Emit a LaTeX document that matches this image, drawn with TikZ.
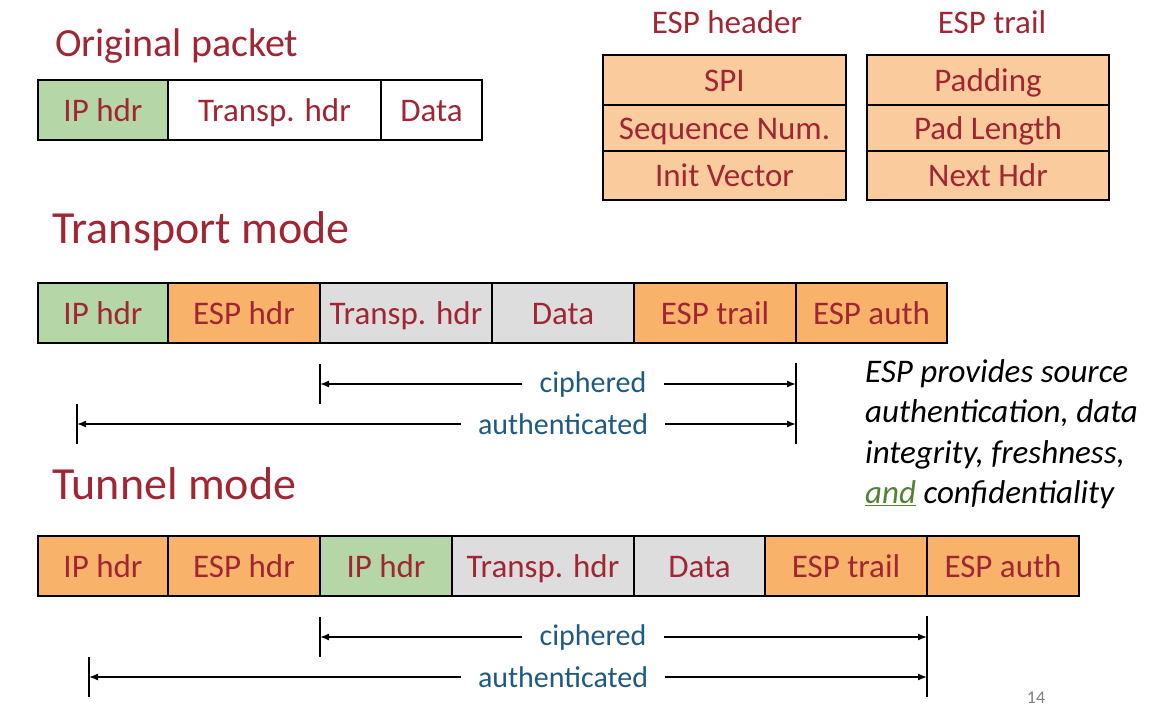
\documentclass[tikz,border=0pt]{standalone}
\usepackage{fontspec}
\setmainfont{Carlito}
\usepackage{tikz}
\usetikzlibrary{positioning,arrows.meta}
\definecolor{hdrred}{RGB}{160,38,52}
\definecolor{lblblue}{RGB}{31,90,130}
\definecolor{ipgreen}{RGB}{181,215,168}
\definecolor{esporange}{RGB}{248,178,106}
\definecolor{esplight}{RGB}{250,203,156}
\definecolor{bodygray}{RGB}{221,221,221}
\definecolor{andgreen}{RGB}{84,130,53}

\begin{document}
\begin{tikzpicture}[x=1pt, y=-1pt,
  fld/.style={draw=black, line width=1.3pt, minimum height=60pt, inner sep=0pt, outer sep=0pt,
    text=hdrred, text height=26pt, text depth=4pt, font=\fontsize{33}{40}\selectfont},
  row/.style={fld, minimum height=#1},
  title/.style={text=hdrred, inner sep=0pt, anchor=west, font=\fontsize{46}{50}\selectfont},
  lbl/.style={text=lblblue, inner ysep=0pt, inner xsep=17pt, font=\fontsize{30}{34}\selectfont},
  arr/.style={line width=1.4pt, -{Latex[length=9pt,width=7pt]}},
  tick/.style={line width=1.4pt}]

\useasboundingbox (0,0) rectangle (1167,720);

% Original packet
\path (55,46) node[title, font=\fontsize{40}{44}\selectfont] (otitle) {Original packet};
\path (38,110) node[fld, fill=ipgreen, minimum width=130pt, anchor=west] (oip) {IP hdr};
\node[fld, fill=white, minimum width=213pt, right=0pt of oip] (otr) {Transp. hdr};
\node[fld, fill=white, minimum width=101pt, right=0pt of otr] (odata) {Data};

% ESP header and trail fields
\path (727,22) node[text=hdrred, font=\fontsize{33}{36}\selectfont] (hdrtitle) {ESP header};
\path (603,55) node[row=50pt, fill=esplight, minimum width=243pt, anchor=north west] (spi) {SPI};
\node[row=46pt, fill=esplight, minimum width=243pt, below=0pt of spi] (seq) {Sequence Num.};
\node[row=49pt, fill=esplight, minimum width=243pt, below=0pt of seq] (iv) {Init Vector};

\path (992,22) node[text=hdrred, font=\fontsize{33}{36}\selectfont] (trltitle) {ESP trail};
\path (867,55) node[row=50pt, fill=esplight, minimum width=242pt, anchor=north west] (pad) {Padding};
\node[row=46pt, fill=esplight, minimum width=242pt, below=0pt of pad] (padlen) {Pad Length};
\node[row=49pt, fill=esplight, minimum width=242pt, below=0pt of padlen] (nxt) {Next Hdr};

% Transport mode
\path (52,231) node[title] (ttitle) {Transport mode};
\path (38,313) node[fld, fill=ipgreen, minimum width=130pt, anchor=west] (tip) {IP hdr};
\node[fld, fill=esporange, minimum width=152pt, right=0pt of tip] (tesp) {ESP hdr};
\node[fld, fill=bodygray, minimum width=172pt, right=0pt of tesp] (ttr) {Transp. hdr};
\node[fld, fill=bodygray, minimum width=142pt, right=0pt of ttr] (tdata) {Data};
\node[fld, fill=esporange, minimum width=162pt, right=0pt of tdata] (ttrl) {ESP trail};
\node[fld, fill=esporange, minimum width=151pt, right=0pt of ttrl] (tauth) {ESP auth};

\coordinate (tcl) at (320,384);
\coordinate (tcr) at (796,384);
\coordinate (tal) at (77,424);
\coordinate (tar) at (796,424);
\node[lbl] (tciph) at (593,384) {ciphered};
\node[lbl] (tauthd) at (563,424) {authenticated};
\draw[tick] ([yshift=20pt]tcl) -- ([yshift=-20pt]tcl);
\draw[tick] ([yshift=20pt]tal) -- ([yshift=-20pt]tal);
\draw[tick] ([yshift=21pt]tcr) -- ([yshift=-20pt]tar);
\draw[arr] (tciph.west) -- (tcl);
\draw[arr] (tciph.east) -- (tcr);
\draw[arr] (tauthd.west) -- (tal);
\draw[arr] (tauthd.east) -- (tar);

% Note on ESP
\path (865,359) node[anchor=north west, inner sep=0pt, align=left,
  font=\fontsize{33}{40.5}\selectfont\itshape] (note)
  {ESP provides source\\authentication, data\\integrity, freshness,\\{\color{andgreen}\underline{and}} confidentiality};

% Tunnel mode
\path (52,484) node[title] (ntitle) {Tunnel mode};
\path (38,566) node[fld, fill=esporange, minimum width=130pt, anchor=west] (nip) {IP hdr};
\node[fld, fill=esporange, minimum width=152pt, right=0pt of nip] (nesp) {ESP hdr};
\node[fld, fill=ipgreen, minimum width=132pt, right=0pt of nesp] (nin) {IP hdr};
\node[fld, fill=bodygray, minimum width=182pt, right=0pt of nin] (ntr) {Transp. hdr};
\node[fld, fill=bodygray, minimum width=131pt, right=0pt of ntr] (ndata) {Data};
\node[fld, fill=esporange, minimum width=162pt, right=0pt of ndata] (ntrl) {ESP trail};
\node[fld, fill=esporange, minimum width=152pt, right=0pt of ntrl] (nauth) {ESP auth};

\coordinate (ncl) at (320,637);
\coordinate (ncr) at (927,637);
\coordinate (nal) at (89,677);
\coordinate (nar) at (927,677);
\node[lbl] (nciph) at (593,637) {ciphered};
\node[lbl] (nauthd) at (563,677) {authenticated};
\draw[tick] ([yshift=20pt]ncl) -- ([yshift=-20pt]ncl);
\draw[tick] ([yshift=20pt]nal) -- ([yshift=-20pt]nal);
\draw[tick] ([yshift=21pt]ncr) -- ([yshift=-20pt]nar);
\draw[arr] (nciph.west) -- (ncl);
\draw[arr] (nciph.east) -- (ncr);
\draw[arr] (nauthd.west) -- (nal);
\draw[arr] (nauthd.east) -- (nar);

\path (1036,698) node[text=gray, font=\fontsize{18}{20}\selectfont] (pnum) {14};

\end{tikzpicture}
\end{document}
